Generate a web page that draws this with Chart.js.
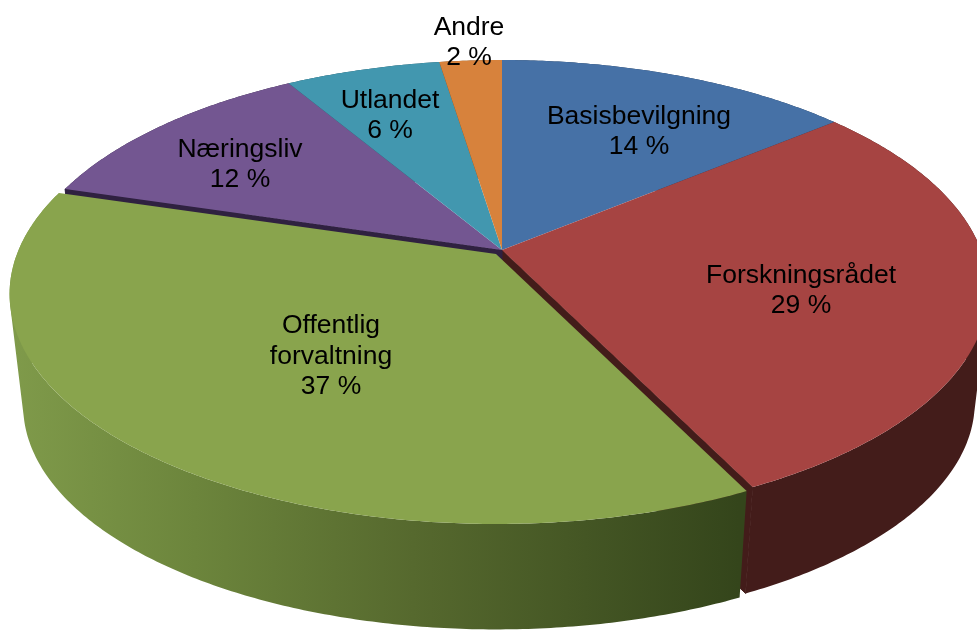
<!DOCTYPE html>
<html>
<head>
<meta charset="utf-8">
<script src="https://cdn.jsdelivr.net/npm/chart.js@4"></script>
<style>
  html, body { margin: 0; padding: 0; background: #fff; }
  #wrap { width: 977px; height: 631px; overflow: hidden; }
</style>
</head>
<body>
<div id="wrap"><canvas id="pie" width="977" height="631"></canvas></div>
<script>
// values, labels show them rounded
const categories = ['Basisbevilgning', 'Forskningsrådet', 'Offentlig\nforvaltning', 'Næringsliv', 'Utlandet', 'Andre'];
const values = [14.0, 28.7, 36.9, 11.8, 6.1, 2.45];
const topColors = ['#4671a6', '#a64442', '#89a44d', '#735691', '#4297af', '#d7823c'];
const wallColors = ['#233853', '#431c1a', '#56692e', '#2f2140', '#20505e', '#6e4019'];
const greenWallStops = [[0, '#7f9a4a'], [0.25, '#6c853c'], [0.55, '#56692e'], [1, '#34451b']];

// layout of the tilted disc
const apex = { x: 502, y: 250 };
const tilt = { a: 479, b: 223, k: 0.174 };
const floor = { y: 363, s: 0.972 };
const greenShift = { x: -6, y: 4 }; // that slice is pulled out a little
const labelCentres = [[639, 116.5], [801, 275.5], [331, 326], [240, 149.5], [390, 100.5], [469, 27.5]];
const lineHeight = 30.5;

// angle (clockwise from top) on the disc -> picture position, with perspective
function rimPoint(theta, low) {
  const u = Math.sin(theta), v = Math.cos(theta);
  const w = 1 + tilt.k * v;
  const s = low ? floor.s : 1;
  return {
    x: apex.x + s * tilt.a * u / w,
    y: (low ? floor.y : apex.y) - s * tilt.b * v / w
  };
}

function traceRim(ctx, from, to) {
  const steps = Math.max(4, Math.ceil(Math.abs(to - from) / 0.01));
  for (let i = 0; i <= steps; i++) {
    const p = rimPoint(from + (to - from) * i / steps, false);
    ctx.lineTo(p.x, p.y);
  }
}

// the wall as many small quads in one path, so the outline follows the
// tangent between the upper and lower rim and no seams show
function traceWall(ctx, from, to) {
  const steps = Math.ceil((to - from) / 0.01);
  for (let i = 0; i < steps; i++) {
    const t0 = from + (to - from) * i / steps;
    const t1 = from + (to - from) * (i + 1) / steps;
    let q = [rimPoint(t0, false), rimPoint(t1, false), rimPoint(t1, true), rimPoint(t0, true)];
    let area = 0;
    q.forEach((p, n) => {
      const r = q[(n + 1) % 4];
      area += p.x * r.y - r.x * p.y;
    });
    if (area < 0) q = q.reverse();
    ctx.moveTo(q[0].x, q[0].y);
    q.slice(1).forEach(p => ctx.lineTo(p.x, p.y));
    ctx.closePath();
  }
}

function cutWall(ctx, theta, color) {
  const a = rimPoint(theta, false), b = rimPoint(theta, true);
  ctx.fillStyle = color;
  ctx.strokeStyle = color;
  ctx.lineWidth = 1;
  ctx.beginPath();
  ctx.moveTo(apex.x, apex.y);
  ctx.lineTo(a.x, a.y);
  ctx.lineTo(b.x, b.y);
  ctx.lineTo(apex.x, floor.y);
  ctx.closePath();
  ctx.fill();
  ctx.stroke();
}

const disc3d = {
  id: 'disc3d',
  beforeDatasetsDraw(chart) {
    const ctx = chart.ctx;
    const arcs = chart.getDatasetMeta(0).data;
    const angle = (el, key) => el[key] + Math.PI / 2;
    const green = 2;

    const wallFill = (i) => {
      if (i !== green) return wallColors[i];
      const g = ctx.createLinearGradient(20, 0, 745, 0);
      greenWallStops.forEach(s => g.addColorStop(s[0], s[1]));
      return g;
    };

    // outer walls, green last because it sits in front
    [0, 5, 4, 3, 1].forEach(i => {
      ctx.fillStyle = wallFill(i);
      ctx.beginPath();
      traceWall(ctx, angle(arcs[i], 'startAngle'), angle(arcs[i], 'endAngle'));
      ctx.fill();
    });

    // cut faces showing through the gap round the green slice
    cutWall(ctx, angle(arcs[1], 'endAngle'), wallColors[1]);
    cutWall(ctx, angle(arcs[3], 'startAngle'), wallColors[3]);

    ctx.save();
    ctx.translate(greenShift.x, greenShift.y);
    ctx.fillStyle = wallFill(green);
    ctx.beginPath();
    traceWall(ctx, angle(arcs[green], 'startAngle'), angle(arcs[green], 'endAngle'));
    ctx.fill();
    ctx.restore();

    // top faces
    [0, 1, 3, 4, 5, 2].forEach(i => {
      const el = arcs[i];
      ctx.save();
      if (i === green) ctx.translate(greenShift.x, greenShift.y);
      ctx.fillStyle = el.options.backgroundColor;
      ctx.beginPath();
      ctx.moveTo(apex.x, apex.y);
      traceRim(ctx, angle(el, 'startAngle'), angle(el, 'endAngle'));
      ctx.closePath();
      ctx.fill();
      ctx.restore();
    });
    return false; // the slices are painted above, skip the flat pie
  },
  afterDraw(chart) {
    const ctx = chart.ctx;
    ctx.save();
    ctx.font = '26.5px "Liberation Sans", Arial, sans-serif';
    ctx.fillStyle = '#000';
    ctx.textAlign = 'center';
    ctx.textBaseline = 'middle';
    categories.forEach((name, i) => {
      const lines = name.split('\n').concat(Math.round(values[i]) + ' %');
      lines.forEach((line, n) => {
        ctx.fillText(line, labelCentres[i][0], labelCentres[i][1] + n * lineHeight);
      });
    });
    ctx.restore();
  }
};

new Chart(document.getElementById('pie'), {
  type: 'pie',
  data: {
    labels: categories,
    datasets: [{ data: values, backgroundColor: topColors, borderWidth: 0 }]
  },
  options: {
    responsive: false,
    animation: false,
    plugins: { legend: { display: false }, tooltip: { enabled: false } }
  },
  plugins: [disc3d]
});
</script>
</body>
</html>
